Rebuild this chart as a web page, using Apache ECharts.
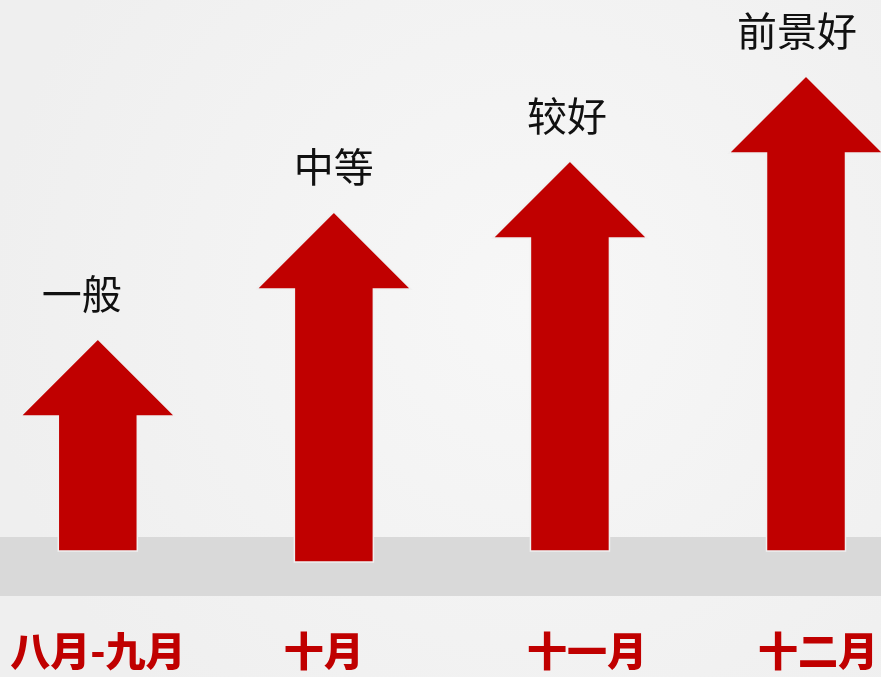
<!DOCTYPE html>
<html>
<head>
<meta charset="utf-8">
<script src="https://cdn.jsdelivr.net/npm/echarts@6/dist/echarts.min.js"></script>
<style>
html,body{margin:0;padding:0;}
#c{width:881px;height:677px;}
</style>
</head>
<body>
<div id="c"></div>
<script>
// ---- data ----
const categories = ['八月-九月', '十月', '十一月', '十二月'];
const ratings = ['一般', '中等', '较好', '前景好'];
const arrowTop = [212, 339, 390, 475];
const arrowBase = [0, -11, 0, 0];
const bandRange = [-45, 14];

// ---- layout tweaks (not data) ----
const labelNudge = [-16, 0, -3, -9];
const catNudge = [0, -10, 17, 12];

const chart = echarts.init(document.getElementById('c'));

const HEAD_HALF = 77, HEAD_LEN = 77, SHAFT_HALF = 39.5;

const richStyles = {};
catNudge.forEach((d, i) => {
  richStyles['c' + i] = {
    fontSize: 40, fontWeight: 900, color: '#c00000',
    fontFamily: 'Noto Sans CJK SC',
    padding: d >= 0 ? [0, 0, 0, 2 * d] : [0, -2 * d, 0, 0]
  };
});

const option = {
  backgroundColor: {
    type: 'radial', x: 0.6, y: 0.45, r: 0.8,
    colorStops: [{offset: 0, color: '#f7f7f7'}, {offset: 1, color: '#efefef'}]
  },
  animation: false,
  grid: {left: 97.8, right: 72.8, top: 0, bottom: 57},
  xAxis: {
    type: 'category', data: categories, boundaryGap: false,
    axisLine: {show: false, onZero: false}, axisTick: {show: false},
    axisLabel: {
      margin: 11,
      formatter: (v, i) => '{c' + i + '|' + v + '}',
      rich: richStyles
    }
  },
  yAxis: {type: 'value', min: -69, max: 551, show: false, splitLine: {show: false}},
  series: [
    {
      type: 'custom', z: 1, silent: true,
      data: [[bandRange[0], bandRange[1]]],
      renderItem: function (params, api) {
        const lo = api.coord([0, api.value(0)]);
        const hi = api.coord([0, api.value(1)]);
        return {
          type: 'rect',
          shape: {x: 0, y: hi[1], width: api.getWidth(), height: lo[1] - hi[1]},
          style: {fill: '#d9d9d9'}
        };
      }
    },
    {
      type: 'custom', z: 3,
      data: categories.map((c, i) => [i, arrowBase[i], arrowTop[i]]),
      renderItem: function (params, api) {
        const i = api.value(0);
        const base = api.coord([i, api.value(1)]);
        const tip = api.coord([i, api.value(2)]);
        const x = tip[0];
        const hb = tip[1] + HEAD_LEN;
        const pts = [
          [x, tip[1]],
          [x + HEAD_HALF, hb],
          [x + SHAFT_HALF, hb],
          [x + SHAFT_HALF, base[1]],
          [x - SHAFT_HALF, base[1]],
          [x - SHAFT_HALF, hb],
          [x - HEAD_HALF, hb]
        ];
        return {
          type: 'group',
          children: [
            {
              type: 'polygon',
              shape: {points: pts},
              style: {fill: '#c00000', stroke: '#f0f0f0', lineWidth: 1.5}
            },
            {
              type: 'text',
              x: x + labelNudge[params.dataIndex],
              y: tip[1] - 45,
              style: {
                text: ratings[params.dataIndex],
                fontSize: 40,
                fontFamily: 'Noto Sans CJK SC',
                fill: '#111111',
                align: 'center',
                verticalAlign: 'middle'
              }
            }
          ]
        };
      }
    }
  ]
};
chart.setOption(option);
</script>
</body>
</html>
